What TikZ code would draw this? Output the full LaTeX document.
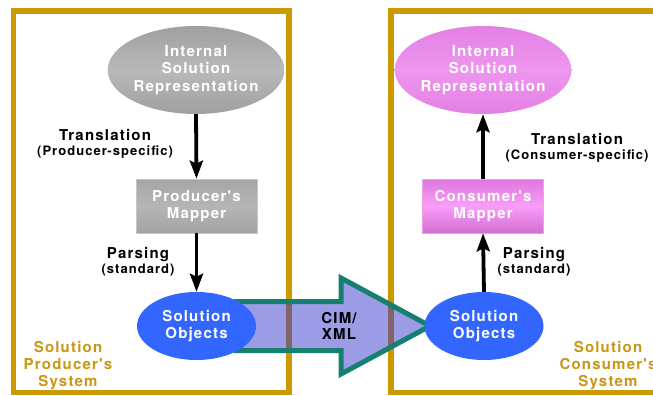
\documentclass[tikz,border=0pt]{standalone}
\usepackage{fontspec}
\setmainfont{TeX Gyre Heros}
\newfontfamily\lblfont[LetterSpace=8]{TeX Gyre Heros}
\newcommand\notesize{\lblfont\bfseries\fontsize{13}{14}\selectfont}
\usetikzlibrary{shapes.geometric,arrows.meta}
\definecolor{framegold}{RGB}{204,153,0}
\definecolor{textgold}{RGB}{200,150,20}
\definecolor{flowfill}{RGB}{155,155,230}
\definecolor{flowedge}{RGB}{22,128,112}
\definecolor{seenframe}{RGB}{128,100,104}
\definecolor{objblue}{RGB}{51,102,255}
\tikzset{
  sysframe/.style={draw=framegold,line width=5.5pt},
  nodetext/.style={text=white,font=\lblfont\bfseries\fontsize{15}{17.5}\selectfont,align=center,inner sep=0pt},
  repoval/.style={ellipse,minimum width=166pt,minimum height=88pt,nodetext},
  mapbox/.style={rectangle,minimum width=121pt,minimum height=54pt,nodetext},
  objoval/.style={ellipse,minimum width=119pt,minimum height=68pt,nodetext,fill=objblue},
  steparrow/.style={line width=3.8pt,-{Stealth[length=18pt,width=13pt,inset=3pt]}},
  steplabel/.style={align=center,inner sep=0pt,font=\lblfont\bfseries\fontsize{15}{16}\selectfont},
  syslabel/.style={align=center,inner sep=0pt,text=textgold,font=\lblfont\bfseries\fontsize{15}{17}\selectfont},
}
\begin{document}
\begin{tikzpicture}[x=1pt,y=-1pt]
\useasboundingbox (0,0) rectangle (653,396);
\begin{scope}
\clip (0,0) rectangle (653,396);
% system frames
\draw[sysframe] (13.5,11) rectangle (289,392.5);
\draw[sysframe] (391,11) rectangle (700,392.5);

% CIM/XML transfer arrow
\def\flowpath{(236,301.5) -- (341,301.5) -- (341,278) -- (430,326) -- (341,374) -- (341,350.5) -- (236,350.5) -- cycle}
\fill[flowfill] \flowpath;
\begin{scope}
  \clip \flowpath;
  \draw[seenframe,line width=5.5pt] (289,270) -- (289,380);
  \draw[seenframe,line width=5.5pt] (391,270) -- (391,380);
\end{scope}
\draw[flowedge,line width=5pt,line join=miter] \flowpath;
\node[steplabel] (cim) at (339,326) {CIM/\\XML};
\end{scope}

% producer side
\node[repoval,top color=gray!75,bottom color=gray!75,middle color=gray!55,shading angle=0] (irl) at (196,70) {Internal\\Solution\\Representation};
\node[mapbox,top color=gray!70,bottom color=gray!72,middle color=gray!58,draw=gray!45,line width=0.6pt] (pm) at (196.5,206) {Producer's\\Mapper};
\node[objoval] (sol) at (196.5,326) {Solution\\Objects};

% consumer side
\node[repoval,top color={rgb,255:red,228;green,128;blue,228},bottom color={rgb,255:red,228;green,128;blue,228},middle color={rgb,255:red,238;green,150;blue,238}] (irr) at (483,70) {Internal\\Solution\\Representation};
\node[mapbox,top color={rgb,255:red,222;green,118;blue,222},bottom color={rgb,255:red,210;green,108;blue,210},middle color={rgb,255:red,248;green,158;blue,248},draw={rgb,255:red,235;green,160;blue,235},line width=0.6pt] (cm) at (483,206) {Consumer's\\Mapper};
\node[objoval] (sor) at (484,326) {Solution\\Objects};

% processing steps
\draw[steparrow] (irl.south) -- (pm.north);
\draw[steparrow] (pm.south) -- (sol.north);
\draw[steparrow] (cm.north) -- (irr.south);
\draw[steparrow] (sor.north) -- (cm.south);

\node[steplabel] (trl) at (105,144) {Translation\\[-1pt]{\notesize (Producer-specific)}};
\node[steplabel] (psl) at (138,262) {Parsing\\[-1pt]{\notesize (standard)}};
\node[steplabel] (trr) at (577,148) {Translation\\[-1pt]{\notesize (Consumer-specific)}};
\node[steplabel] (psr) at (534,262) {Parsing\\[-1pt]{\notesize (standard)}};

% system captions
\node[syslabel] (sysl) at (68,366) {Solution\\Producer's\\System};
\node[syslabel] (sysr) at (608,366) {Solution\\Consumer's\\System};
\end{tikzpicture}
\end{document}
